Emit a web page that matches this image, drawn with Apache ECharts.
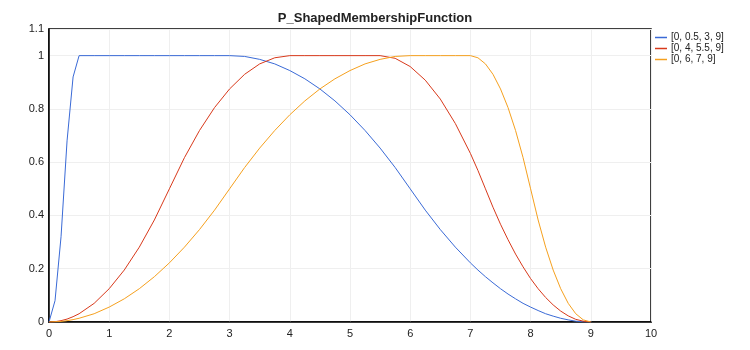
<!DOCTYPE html>
<html>
<head>
<meta charset="utf-8">
<script src="https://cdn.jsdelivr.net/npm/echarts@6/dist/echarts.min.js"></script>
<style>
  html, body { margin: 0; padding: 0; background: #fff; }
  #chart { width: 750px; height: 350px; }
</style>
</head>
<body>
<div id="chart"></div>
<script>
    // x samples shared by all three curves
    var xs = [0, 0.1, 0.2, 0.3, 0.4, 0.5, 0.75, 1, 1.25, 1.5, 1.75, 2, 2.25, 2.5, 2.75, 3,
        3.25, 3.5, 3.75, 4, 4.25, 4.5, 4.75, 5, 5.25, 5.5, 5.75, 6, 6.25, 6.5, 6.75, 7,
        7.125, 7.25, 7.375, 7.5, 7.625, 7.75, 7.875, 8, 8.125, 8.25, 8.375, 8.5, 8.625, 8.75, 8.875, 9];

    var seriesNames = ['[0, 0.5, 3, 9]', '[0, 4, 5.5, 9]', '[0, 6, 7, 9]'];

    var blue = [0, 0.08, 0.32, 0.68, 0.92, 1, 1, 1, 1, 1, 1, 1, 1, 1, 1, 1,
        0.997, 0.986, 0.969, 0.944, 0.913, 0.875, 0.830, 0.778, 0.719, 0.653, 0.580, 0.5,
        0.420, 0.347, 0.281, 0.222,
        0.195, 0.170, 0.147, 0.125, 0.105, 0.087, 0.070, 0.056, 0.043, 0.031, 0.022, 0.014, 0.008, 0.003, 0.001, 0];

    var red = [0, 0.001, 0.005, 0.011, 0.02, 0.031, 0.070, 0.125, 0.195, 0.281, 0.383, 0.5,
        0.617, 0.719, 0.805, 0.875, 0.930, 0.969, 0.992, 1, 1, 1, 1, 1, 1, 1,
        0.990, 0.959, 0.908, 0.837, 0.745, 0.633,
        0.569, 0.5, 0.431, 0.367, 0.309, 0.255, 0.207, 0.163, 0.125, 0.092, 0.064, 0.041, 0.023, 0.010, 0.003, 0];

    var orange = [0, 0.001, 0.002, 0.005, 0.009, 0.014, 0.031, 0.056, 0.087, 0.125, 0.170, 0.222,
        0.281, 0.347, 0.420, 0.5, 0.580, 0.653, 0.719, 0.778, 0.830, 0.875, 0.913, 0.944,
        0.969, 0.986, 0.997, 1, 1, 1, 1, 1,
        0.992, 0.969, 0.930, 0.875, 0.805, 0.719, 0.617, 0.5, 0.383, 0.281, 0.195, 0.125, 0.070, 0.031, 0.008, 0];

    var colors = ['#3a6ad6', '#d8391b', '#f5a01e'];

    function pairs(ys) {
        return xs.map(function (x, i) { return [x, ys[i]]; });
    }

    var chart = echarts.init(document.getElementById('chart'));
    var labelFont = { color: '#222', fontSize: 11, fontFamily: 'Liberation Sans, Arial, sans-serif' };

    var option = {
        animation: false,
        color: colors,
        title: {
            text: 'P_ShapedMembershipFunction',
            left: 'center',
            top: 7,
            textStyle: { fontSize: 13, fontWeight: 'bold', color: '#222', fontFamily: 'Liberation Sans, Arial, sans-serif' }
        },
        legend: {
            orient: 'vertical',
            left: 650,
            top: 27,
            itemGap: 0,
            itemWidth: 12,
            itemHeight: 1.5,
            icon: 'rect',
            textStyle: { color: '#222', fontSize: 10, lineHeight: 11, fontFamily: 'Liberation Sans, Arial, sans-serif', padding: [0, 0, 0, -1] },
            data: seriesNames
        },
        grid: {
            left: 49, right: 99, top: 29, bottom: 28,
            show: true,
            borderColor: '#000',
            borderWidth: 1.5
        },
        xAxis: {
            type: 'value',
            min: 0, max: 10, interval: 1,
            axisLine: { show: true, lineStyle: { color: '#000', width: 1.5 } },
            axisTick: { show: false },
            axisLabel: Object.assign({ margin: 6 }, labelFont),
            splitLine: { show: true, lineStyle: { color: '#efefef' } }
        },
        yAxis: {
            type: 'value',
            min: 0, max: 1.1, interval: 0.2,
            axisLine: { show: true, lineStyle: { color: '#000', width: 1.5 } },
            axisTick: { show: false },
            axisLabel: Object.assign({ margin: 5 }, labelFont),
            splitLine: { show: true, lineStyle: { color: '#efefef' } }
        },
        series: [
            { name: seriesNames[0], type: 'line', showSymbol: false, data: pairs(blue), lineStyle: { width: 1 } },
            { name: seriesNames[1], type: 'line', showSymbol: false, data: pairs(red), lineStyle: { width: 1 } },
            { name: seriesNames[2], type: 'line', showSymbol: false, data: pairs(orange), lineStyle: { width: 1 } }
        ]
    };

    chart.setOption(option);
    window.addEventListener('resize', function () {
        chart.resize();
    });
</script>
</body>
</html>
